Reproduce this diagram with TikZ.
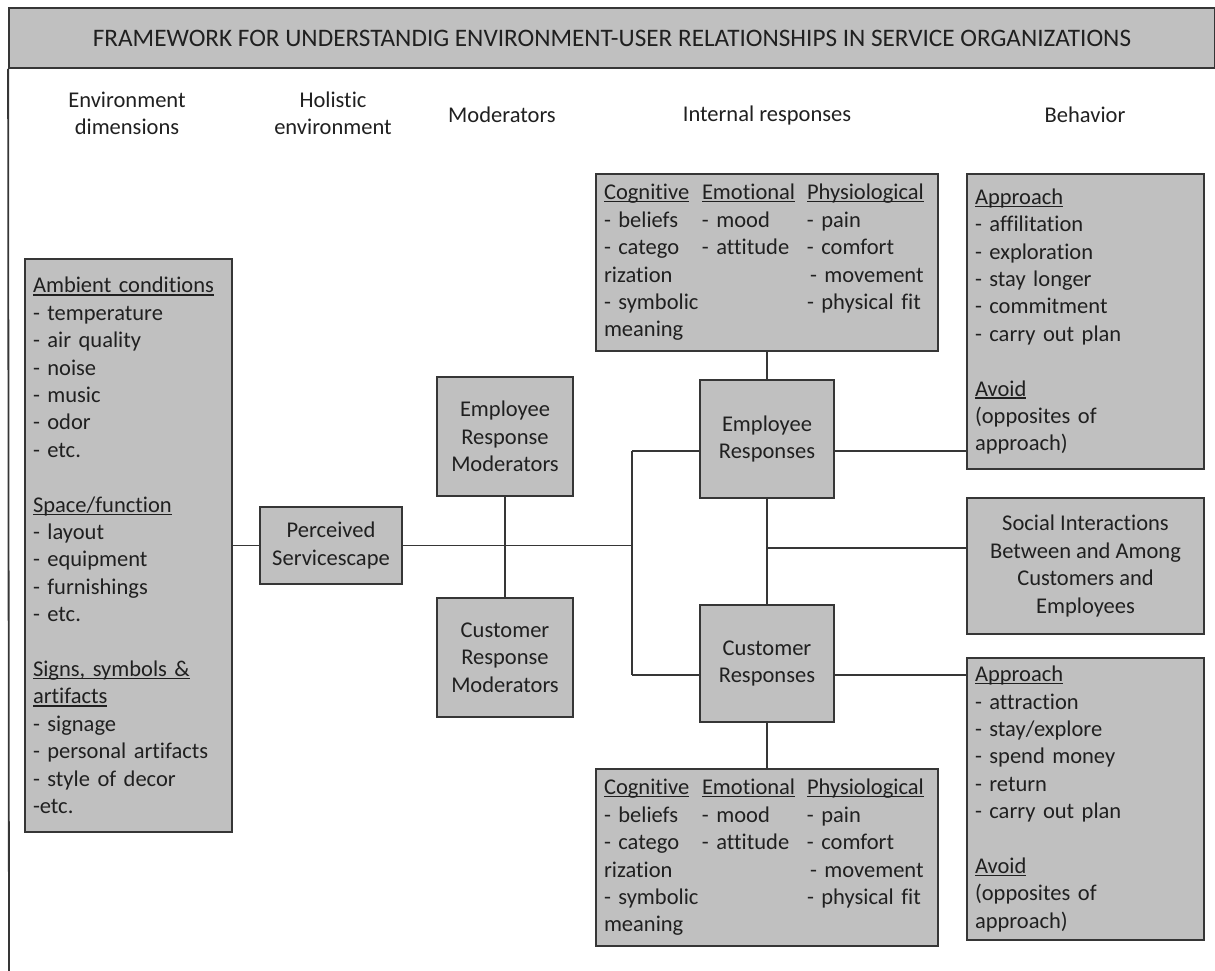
\documentclass[tikz,border=0pt]{standalone}
\usepackage{fontspec}
\setmainfont{Carlito}[Ligatures={NoCommon}]
\definecolor{boxgray}{HTML}{C0C0C0}
\definecolor{edge}{HTML}{363636}
\definecolor{ink}{HTML}{202020}
% underline drawn through the descenders, word-processor style
\newcommand\under[1]{\leavevmode\setbox0\hbox{#1}\rlap{\rule[-2.6pt]{\wd0}{1.2pt}}\box0}
% three fixed columns for the internal-response boxes
\newcommand\colA[1]{\makebox[98pt][l]{#1}}
\newcommand\colB[1]{\makebox[105pt][l]{#1}}
\tikzset{
  every node/.style={text=ink, font=\fontsize{22.5}{27.4}\selectfont},
  box/.style={draw=edge, fill=boxgray, line width=1.7pt, inner sep=0pt, align=center},
  listbox/.style={box, align=left, inner xsep=8pt},
  link/.style={draw=edge, line width=1.5pt},
  head/.style={align=center, font=\fontsize{22.5}{27}\selectfont},
  titlebar/.style={draw=edge, fill=boxgray, line width=1.8pt, inner sep=0pt,
    font=\fontsize{25.2}{29}\selectfont},
}
\begin{document}
\begin{tikzpicture}[x=1pt,y=-1pt]
\useasboundingbox (0,0) rectangle (1215,970);

% title bar and left frame line
\node[titlebar, minimum width=1206pt, minimum height=60pt] (title) at (612,38)
  {FRAMEWORK FOR UNDERSTANDIG ENVIRONMENT-USER RELATIONSHIPS IN SERVICE ORGANIZATIONS};
\coordinate (leftend) at (9,972);
\draw[edge, line width=1.8pt] (title.south west) -- (leftend);

% column headings
\node[head] (h1) at (127,113.5) {Environment\\dimensions};
\node[head] (h2) at (333,113.5) {Holistic\\environment};
\node[head] (h3) at (502,115) {Moderators};
\node[head] (h4) at (767,115) {Internal responses};
\node[head] (h5) at (1085,115) {Behavior};

% environment dimensions
\node[listbox, text width=191pt, minimum width=207pt, minimum height=573pt] (env) at (128.5,545.5) {%
\under{Ambient conditions}\\
- temperature\\
- air quality\\
- noise\\
- music\\
- odor\\
- etc.\\
\mbox{}\\
\under{Space/function}\\
- layout\\
- equipment\\
- furnishings\\
- etc.\\
\mbox{}\\
\under{Signs, symbols \&}\\
\under{artifacts}\\
- signage\\
- personal artifacts\\
- style of decor\\
-etc.};

% holistic environment
\node[box, minimum width=142pt, minimum height=77pt] (perc) at (331,545.5) {Perceived\\Servicescape};

% moderators
\node[box, minimum width=136pt, minimum height=119pt] (empmod) at (505,436.5) {Employee\\Response\\Moderators};
\node[box, minimum width=136pt, minimum height=119pt] (cusmod) at (505,657.5) {Customer\\Response\\Moderators};

% internal responses
\node[listbox, text width=326pt, minimum width=342pt, minimum height=177pt] (topint) at (767,262.5) {%
\colA{\under{Cognitive}}\colB{\under{Emotional}}\under{Physiological}\\
\colA{- beliefs}\colB{- mood}- pain\\
\colA{- catego}\colB{- attitude}- comfort\\
\colA{rization}\colB{}\hspace{3pt}- movement\\
\colA{- symbolic}\colB{}- physical fit\\
meaning};
\node[box, minimum width=134pt, minimum height=118pt] (empresp) at (767,439) {Employee\\Responses};
\node[box, minimum width=134pt, minimum height=117pt] (cusresp) at (767,663.5) {Customer\\Responses};
\node[listbox, text width=326pt, minimum width=342pt, minimum height=177pt] (botint) at (767,857.5) {%
\colA{\under{Cognitive}}\colB{\under{Emotional}}\under{Physiological}\\
\colA{- beliefs}\colB{- mood}- pain\\
\colA{- catego}\colB{- attitude}- comfort\\
\colA{rization}\colB{}\hspace{3pt}- movement\\
\colA{- symbolic}\colB{}- physical fit\\
meaning};

% behaviour
\node[listbox, text width=221pt, minimum width=237pt, minimum height=295pt] (behtop) at (1085.5,321.5) {%
\under{Approach}\\
- affilitation\\
- exploration\\
- stay longer\\
- commitment\\
- carry out plan\\
\mbox{}\\
\under{Avoid}\\
(opposites of\\
approach)};
\node[box, minimum width=237pt, minimum height=136pt] (social) at (1085.5,566) {Social Interactions\\Between and Among\\Customers and\\Employees};
\node[listbox, text width=221pt, minimum width=237pt, minimum height=282pt] (behbot) at (1085.5,799) {%
\under{Approach}\\
- attraction\\
- stay/explore\\
- spend money\\
- return\\
- carry out plan\\
\mbox{}\\
\under{Avoid}\\
(opposites of\\
approach)};

% junction points of the connectors
\coordinate (jtop) at (632,451);
\coordinate (jbot) at (632,675);
\coordinate (jsoc) at (767,548);

% connectors
\draw[link] (env.east) -- (perc.west);
\draw[link] (perc.east) -- (perc.east -| jtop);
\draw[link] (empmod.south) -- (cusmod.north);
\draw[link] (jtop) -- (jbot);
\draw[link] (jtop) -- (jtop -| empresp.west);
\draw[link] (jbot) -- (jbot -| cusresp.west);
\draw[link] (empresp.north) -- (topint.south);
\draw[link] (empresp.south) -- (cusresp.north);
\draw[link] (cusresp.south) -- (botint.north);
\draw[link] (jtop -| empresp.east) -- (jtop -| behtop.west);
\draw[link] (jsoc) -- (jsoc -| social.west);
\draw[link] (jbot -| cusresp.east) -- (jbot -| behbot.west);
\end{tikzpicture}
\end{document}
